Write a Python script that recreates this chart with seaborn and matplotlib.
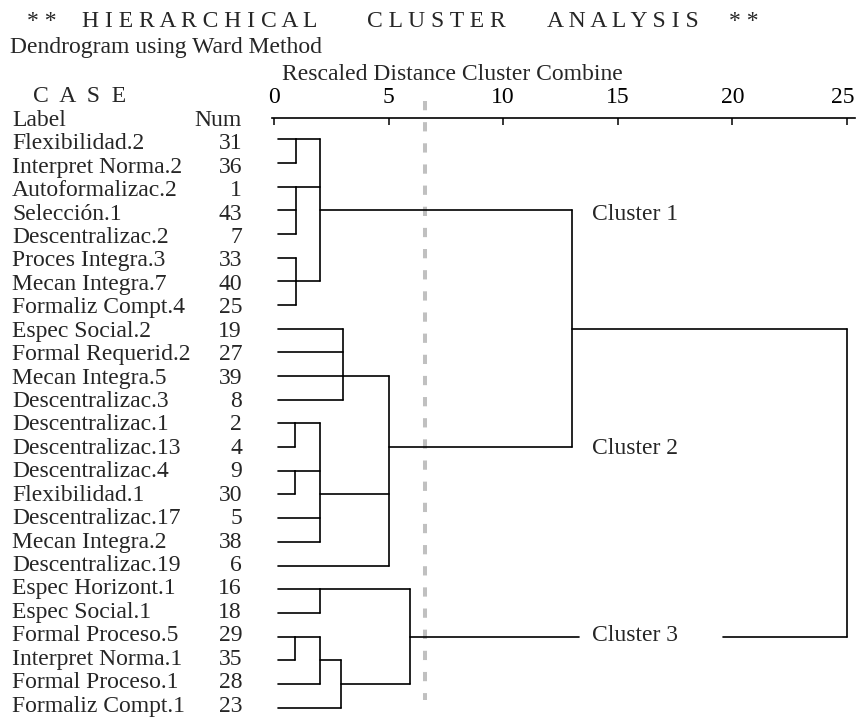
import pandas as pd
import matplotlib.pyplot as plt
import matplotlib.transforms as mtransforms
import seaborn as sns

case_labels = [
    "Flexibilidad.2", "Interpret Norma.2", "Autoformalizac.2", "Selección.1",
    "Descentralizac.2", "Proces Integra.3", "Mecan Integra.7", "Formaliz Compt.4",
    "Espec Social.2", "Formal Requerid.2", "Mecan Integra.5", "Descentralizac.3",
    "Descentralizac.1", "Descentralizac.13", "Descentralizac.4", "Flexibilidad.1",
    "Descentralizac.17", "Mecan Integra.2", "Descentralizac.19", "Espec Horizont.1",
    "Espec Social.1", "Formal Proceso.5", "Interpret Norma.1", "Formal Proceso.1",
    "Formaliz Compt.1",
]
case_nums = [31, 36, 1, 43, 7, 33, 40, 25, 19, 27, 39, 8, 2, 4, 9, 30, 5, 38, 6,
             16, 18, 29, 35, 28, 23]

# each merge joins rows (0-24) or earlier merges (25, 26, ...)
merge_children = [
    [0, 1], [2, 3, 4], [5, 6, 7], [25, 26, 27],
    [8, 9, 10, 11], [12, 13], [14, 15], [30, 31, 16, 17], [29, 32, 18],
    [19, 20], [21, 22], [35, 23], [36, 24], [34, 37],
    [28, 33], [39, 38],
]
merge_heights = [0.95, 0.95, 0.95, 2.0, 3.0, 0.92, 0.92, 2.0, 5.0,
                 2.0, 0.92, 2.0, 2.91, 5.93, 13.0, 25.0]
# row where the joined branch leaves the bracket
merge_rows = [0, 2, 6, 3, 10, 12, 14, 15, 13, 19, 21, 22, 23, 21, 8, None]

cluster_names = ["Cluster 1", "Cluster 2", "Cluster 3"]
cluster_rows = [3, 13, 21]
cut_distance = 6.6
axis_ticks = [0, 5, 10, 15, 20, 25]

title_words = ["* *", "H I E R A R C H I C A L", "C L U S T E R", "A N A L Y S I S", "* *"]
title_x = [27, 82, 366.7, 546.7, 729]

leaf_start = 0.17
label_gap = (13.3, 19.6)  # where the cluster names sit on the lines

W, H = 857, 719
PX_UNIT, PX_ROW = 22.92, 23.68


def X(px):
    return (px - 274) / PX_UNIT


def Y(py):
    return (py - 139.3) / PX_ROW


def text_row(r):
    # baseline of the case table rows, in data units
    return Y(149.3 + 23.43 * r)


sns.set_theme(style="white")
plt.rcParams["font.family"] = ["Liberation Serif", "DejaVu Serif"]
FS = 17

# build the bracket segments
n = len(case_labels)
node_x = {i: leaf_start for i in range(n)}
node_y = {i: i for i in range(n)}
segs = []
for k, (kids, h, r) in enumerate(zip(merge_children, merge_heights, merge_rows)):
    for c in kids:
        x0, y0 = node_x[c], node_y[c]
        if y0 in cluster_rows and x0 < label_gap[0] < h:
            segs.append(([x0, label_gap[0]], [y0, y0]))
            segs.append(([label_gap[1], h], [y0, y0]))
        else:
            segs.append(([x0, h], [y0, y0]))
    ys = [node_y[c] for c in kids]
    segs.append(([h, h], [min(ys), max(ys)]))
    node_x[n + k] = h
    node_y[n + k] = r

rows = []
for i, (xs, ys) in enumerate(segs):
    for xv, yv in zip(xs, ys):
        rows.append({"seg": i, "x": xv, "y": yv})
seg_df = pd.DataFrame(rows)

fig = plt.figure(figsize=(W / 100, H / 100), dpi=100)
left_px, right_px, top_px = 271.7, 855, 118
ax = fig.add_axes([left_px / W, 0, (right_px - left_px) / W, 1 - top_px / H])

sns.lineplot(data=seg_df, x="x", y="y", units="seg", estimator=None, sort=False,
             color="black", linewidth=1.2, ax=ax)

ax.set_xlim(X(left_px), X(right_px))
ax.set_ylim(Y(H), Y(top_px))
ax.set_xlabel("")
ax.set_ylabel("")
for side in ["left", "right", "bottom"]:
    ax.spines[side].set_visible(False)
ax.spines["top"].set_color("black")
ax.spines["top"].set_linewidth(1.2)
ax.xaxis.tick_top()
ax.set_xticks(axis_ticks)
ax.set_yticks([])
ax.tick_params(axis="x", direction="in", length=5, width=1.1, pad=7,
               labelsize=FS, colors="black")
# the last label sits a little left of its tick, as in the original
last = ax.get_xticklabels()[-1]
last.set_transform(last.get_transform() +
                   mtransforms.ScaledTranslation(-4 / 100, 0, fig.dpi_scale_trans))

# cut line
ax.plot([cut_distance, cut_distance], [Y(101.3), Y(700)], color="#c0c0c0",
        linewidth=2.9, dashes=(2.3, 2.95), clip_on=False, zorder=1)

# case table
for i, (lab, num) in enumerate(zip(case_labels, case_nums)):
    ax.text(X(12), text_row(i), lab, fontsize=FS, ha="left", va="baseline", clip_on=False)
    ax.text(X(242), text_row(i), str(num), fontsize=FS, ha="right", va="baseline", clip_on=False)
ax.text(X(12), text_row(-1), "Label", fontsize=FS, ha="left", va="baseline", clip_on=False)
ax.text(X(242), text_row(-1), "Num", fontsize=FS, ha="right", va="baseline", clip_on=False)
ax.text(X(33), text_row(-2), "C  A  S  E", fontsize=FS, ha="left", va="baseline", clip_on=False)

for name, r in zip(cluster_names, cluster_rows):
    ax.text(X(592), text_row(r), name, fontsize=FS, ha="left", va="baseline")

ax.text(X(281.7), Y(80), "Rescaled Distance Cluster Combine", fontsize=FS,
        ha="left", va="baseline", clip_on=False)
ax.text(X(10), Y(53), "Dendrogram using Ward Method", fontsize=FS,
        ha="left", va="baseline", clip_on=False)
for word, px in zip(title_words, title_x):
    ax.text(X(px), Y(26.7), word, fontsize=FS, ha="left", va="baseline", clip_on=False)

fig.savefig("out.png", dpi=100)
